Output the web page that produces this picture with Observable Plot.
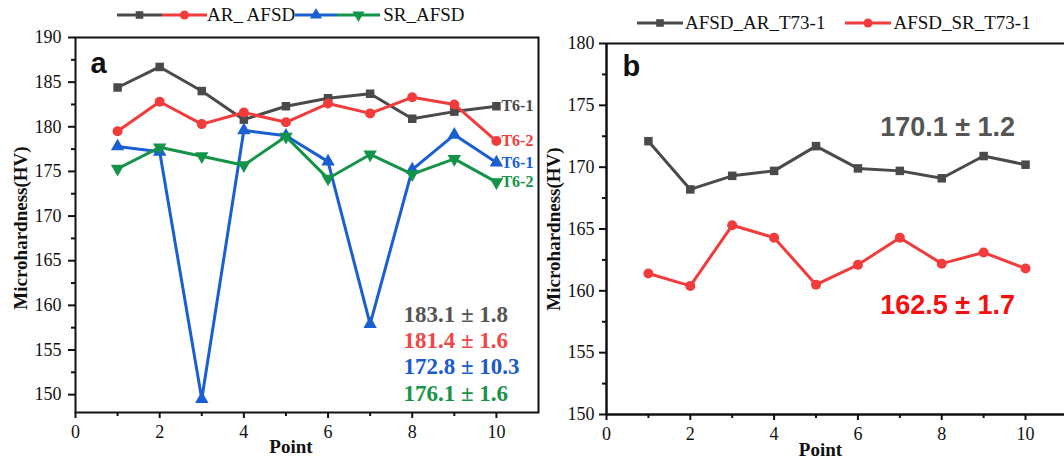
<!DOCTYPE html>
<html>
<head>
<meta charset="utf-8">
<script src="https://cdn.jsdelivr.net/npm/d3@7"></script>
<script src="https://cdn.jsdelivr.net/npm/@observablehq/plot@0.6"></script>
<style>
  html, body { margin: 0; padding: 0; background: #fff; }
  #wrap { position: relative; width: 1064px; height: 460px; overflow: hidden; font-family: "Liberation Serif", serif; }
  .leg { position: absolute; display: flex; align-items: center; height: 22px; font-size: 19px; white-space: pre; color: #111; }
  .leg svg { display: block; }
  .panel { position: absolute; top: 30px; }
  .panel svg { font-family: "Liberation Serif", serif; }
  .panel svg g[aria-label*="axis"] text { font-family: "Liberation Serif", serif; }
</style>
</head>
<body>
<div id="wrap">
  <div id="legA" class="leg" style="left:117px; top:4px;"></div>
  <div id="legB" class="leg" style="left:637px; top:12px;"></div>
  <div id="panelA" class="panel" style="left:0px;"></div>
  <div id="panelB" class="panel" style="left:545px;"></div>
</div>
<script>
// ---------- data ----------
const points = [1, 2, 3, 4, 5, 6, 7, 8, 9, 10];

// Panel a
const arT61 = [184.4, 186.7, 184.0, 180.8, 182.3, 183.2, 183.7, 180.9, 181.7, 182.3];
const arT62 = [179.5, 182.8, 180.3, 181.6, 180.5, 182.6, 181.5, 183.3, 182.5, 178.4];
const srT61 = [177.8, 177.2, 149.5, 179.6, 179.0, 176.1, 157.9, 175.2, 179.1, 176.0];
const srT62 = [175.3, 177.7, 176.7, 175.7, 178.9, 174.2, 176.9, 174.7, 176.4, 173.8];
const endLabelsA = ["T6-1", "T6-2", "T6-1", "T6-2"];
const statsA = ["183.1 ± 1.8", "181.4 ± 1.6", "172.8 ± 10.3", "176.1 ± 1.6"];
const legendA = ["AR_ AFSD", "SR_AFSD"];

// Panel b
const afsdAR = [172.1, 168.2, 169.3, 169.7, 171.7, 169.9, 169.7, 169.1, 170.9, 170.2];
const afsdSR = [161.4, 160.4, 165.3, 164.3, 160.5, 162.1, 164.3, 162.2, 163.1, 161.8];
const legendB = ["AFSD_AR_T73-1", "AFSD_SR_T73-1"];
const statsB = ["170.1 ± 1.2", "162.5 ± 1.7"];

// ticks
const xMajor = [0, 2, 4, 6, 8, 10];
const xMinor = [1, 3, 5, 7, 9];
const yMajorA = [150, 155, 160, 165, 170, 175, 180, 185, 190];
const yMinorA = [152.5, 157.5, 162.5, 167.5, 172.5, 177.5, 182.5, 187.5];
const yMajorB = [150, 155, 160, 165, 170, 175, 180];
const yMinorB = [152.5, 157.5, 162.5, 167.5, 172.5, 177.5];

// ---------- styles ----------
const SERIF = "'Liberation Serif', serif";
const SANS = "'Liberation Sans', Arial, sans-serif";
const GRAY = "#4a4a4a", RED = "#f23c3c", BLUE = "#1a5fd1", GREEN = "#149448";
const triDown = {
  draw(ctx, size) {
    const a = Math.sqrt(4 * size / Math.sqrt(3));
    const h = a * Math.sqrt(3) / 2;
    ctx.moveTo(0, 2 * h / 3);
    ctx.lineTo(-a / 2, -h / 3);
    ctx.lineTo(a / 2, -h / 3);
    ctx.closePath();
  }
};
const seriesA = [
  {values: arT61, color: GRAY, symbol: "square", r: 4.8, label: endLabelsA[0], stat: statsA[0], statColor: "#555555"},
  {values: arT62, color: RED, symbol: "circle", r: 5, label: endLabelsA[1], stat: statsA[1], statColor: "#f24545"},
  {values: srT61, color: BLUE, symbol: "triangle", r: 5, label: endLabelsA[2], stat: statsA[2], statColor: "#1a5acc"},
  {values: srT62, color: GREEN, symbol: triDown, r: 5, label: endLabelsA[3], stat: statsA[3], statColor: "#189448"}
];
const seriesB = [
  {values: afsdAR, color: GRAY, symbol: "square", r: 4.8, label: legendB[0], stat: statsB[0], statColor: "#555555"},
  {values: afsdSR, color: RED, symbol: "circle", r: 5, label: legendB[1], stat: statsB[1], statColor: "#f50f0f"}
];

const baseStyle = {fontFamily: SERIF, fontSize: "18px", color: "#111", background: "transparent", overflow: "visible"};

function seriesMarks(s) {
  const rows = s.values.map((v, i) => ({x: points[i], y: v}));
  return [
    Plot.line(rows, {x: "x", y: "y", stroke: s.color, strokeWidth: 3, strokeLinejoin: "miter"}),
    Plot.dot(rows, {x: "x", y: "y", symbol: s.symbol, r: s.r, fill: s.color, stroke: "none"})
  ];
}

function axes(yMajor, yMinor, ytSize, ytPad) {
  return [
    Plot.axisX({ticks: xMajor, tickSize: 6, tickPadding: 7, tickFormat: d => d, label: null, strokeWidth: 2, fontSize: 18, fontFamily: SERIF, fill: "#111"}),
    Plot.axisX({ticks: xMinor, tickSize: 4, tickFormat: () => "", label: null, strokeWidth: 2}),
    Plot.axisY({ticks: yMajor, tickSize: ytSize, tickPadding: ytPad, tickFormat: d => d, label: null, strokeWidth: 2, fontSize: 18, fontFamily: SERIF, fill: "#111"}),
    Plot.axisY({ticks: yMinor, tickSize: 4, tickFormat: () => "", label: null, strokeWidth: 2})
  ];
}

// ---------- panel a ----------
const plotA = Plot.plot({
  width: 545, height: 430,
  marginTop: 7, marginBottom: 48, marginLeft: 75, marginRight: 7,
  x: {domain: [0, 11]},
  y: {domain: [148, 190]},
  style: baseStyle,
  marks: [
    ...seriesA.flatMap(seriesMarks),
    ...seriesA.map(s => Plot.text([s.values.length - 1], {
      x: i => points[i], y: i => s.values[i], text: () => s.label,
      dx: 5, textAnchor: "start", fill: s.color, fontWeight: "bold", fontSize: 16, fontFamily: SERIF
    })),
    Plot.text(seriesA, {
      x: () => 7.79, y: (d, i) => 159.0 - i * 2.95, text: "stat", fill: "statColor",
      textAnchor: "start", fontWeight: "bold", fontSize: 23, fontFamily: SERIF
    }),
    Plot.frame({stroke: "#111", strokeWidth: 2}),
    ...axes(yMajorA, yMinorA, 7, 7),
    Plot.text(["a"], {frameAnchor: "top-left", dx: 15, dy: 15, lineAnchor: "top", textAnchor: "start", fontFamily: SANS, fontWeight: "bold", fontSize: 29, fill: "#111"}),
    Plot.text(["Microhardness(HV)"], {frameAnchor: "left", dx: -55, dy: 3, rotate: -90, textAnchor: "middle", lineAnchor: "middle", fontWeight: "bold", fontSize: 19, fontFamily: SERIF, fill: "#111"}),
    Plot.text(["Point"], {frameAnchor: "bottom", dx: -16, dy: 34, textAnchor: "middle", lineAnchor: "middle", fontWeight: "bold", fontSize: 19, fontFamily: SERIF, fill: "#111"})
  ]
});
document.getElementById("panelA").append(plotA);

// ---------- panel b ----------
const plotB = Plot.plot({
  width: 519, height: 430,
  marginTop: 13, marginBottom: 46, marginLeft: 61, marginRight: 0,
  x: {domain: [0, 10.93]},
  y: {domain: [150, 180]},
  style: baseStyle,
  marks: [
    ...seriesB.flatMap(seriesMarks),
    Plot.text(seriesB, {
      x: () => 8.14, y: (d, i) => [173.25, 158.8][i], text: "stat", fill: "statColor",
      fontWeight: "bold", fontSize: 27, fontFamily: SANS
    }),
    Plot.ruleY([180], {stroke: "#111", strokeWidth: 2}),
    Plot.ruleY([150], {stroke: "#111", strokeWidth: 2.5}),
    Plot.ruleX([0], {stroke: "#111", strokeWidth: 2.5}),
    ...axes(yMajorB, yMinorB, 7, 5),
    Plot.text(["b"], {frameAnchor: "top-left", dx: 16, dy: 12, lineAnchor: "top", textAnchor: "start", fontFamily: SANS, fontWeight: "bold", fontSize: 29, fill: "#111"}),
    Plot.text(["Microhardness(HV)"], {frameAnchor: "left", dx: -53, rotate: -90, textAnchor: "middle", lineAnchor: "middle", fontWeight: "bold", fontSize: 19, fontFamily: SERIF, fill: "#111"}),
    Plot.text(["Point"], {frameAnchor: "bottom", dx: -15, dy: 35, textAnchor: "middle", lineAnchor: "middle", fontWeight: "bold", fontSize: 19, fontFamily: SERIF, fill: "#111"})
  ]
});
document.getElementById("panelB").append(plotB);

// ---------- legends ----------
function swatch(s, w) {
  const ns = "http://www.w3.org/2000/svg";
  const svg = document.createElementNS(ns, "svg");
  svg.setAttribute("width", w); svg.setAttribute("height", 20);
  const line = document.createElementNS(ns, "line");
  line.setAttribute("x1", 0); line.setAttribute("x2", w);
  line.setAttribute("y1", 10); line.setAttribute("y2", 10);
  line.setAttribute("stroke", s.color); line.setAttribute("stroke-width", 3);
  svg.append(line);
  const path = document.createElementNS(ns, "path");
  const sym = typeof s.symbol === "string"
    ? {square: d3.symbolSquare, circle: d3.symbolCircle, triangle: d3.symbolTriangle}[s.symbol]
    : s.symbol;
  path.setAttribute("d", d3.symbol(sym, Math.PI * s.r * s.r * 0.8)());
  path.setAttribute("transform", `translate(${w / 2},10)`);
  path.setAttribute("fill", s.color);
  svg.append(path);
  return svg;
}
function span(text, ml) {
  const el = document.createElement("span");
  el.textContent = text;
  el.style.marginLeft = ml + "px";
  return el;
}
const legA = document.getElementById("legA");
legA.append(swatch(seriesA[0], 45), swatch(seriesA[1], 45), span(legendA[0], 0),
            swatch(seriesA[2], 42), swatch(seriesA[3], 43), span(legendA[1], 3));
const legB = document.getElementById("legB");
legB.append(swatch(seriesB[0], 46), span(legendB[0], 2));
const gap = document.createElement("span"); gap.style.width = "20px"; gap.style.display = "inline-block";
legB.append(gap, swatch(seriesB[1], 46), span(legendB[1], 2));
</script>
</body>
</html>
